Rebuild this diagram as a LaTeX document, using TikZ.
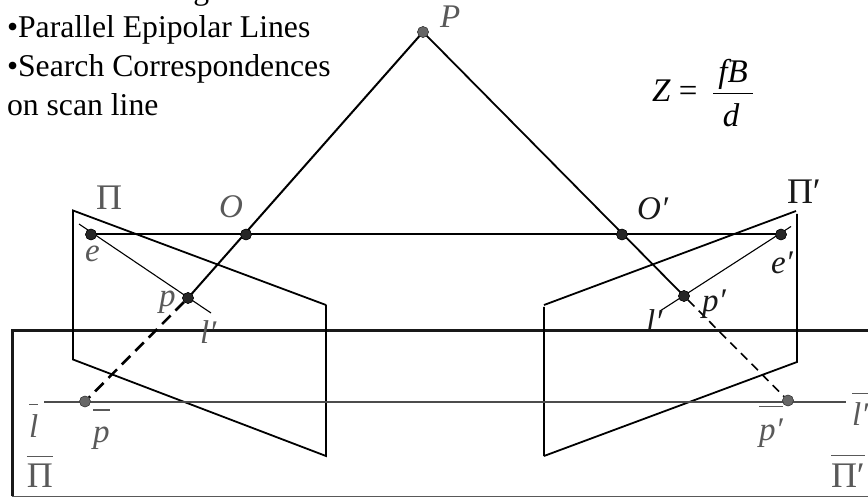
\documentclass[tikz,border=0pt]{standalone}
\usepackage{fontspec}
\setmainfont{Liberation Serif}
\newsavebox{\barbox}
\newcommand{\barover}[3]{\sbox{\barbox}{#3}\rlap{\raisebox{#1}{\rule{\wd\barbox}{#2}}}\usebox{\barbox}}
\tikzset{
  x=1pt,y=-1pt,
  lab/.style={anchor=base west,inner sep=0pt,outer sep=0pt,font=\fontsize{33}{33}\selectfont},
  bigpi/.style={font=\fontsize{36}{36}\selectfont},
  txt/.style={lab,font=\fontsize{31.7}{32}\selectfont,text=black},
  glab/.style={lab,text=black!65},
  dlab/.style={lab,text=black!90},
  ptdark/.style={circle,inner sep=0pt,minimum size=11pt,fill=black!85,draw=black,line width=.4pt},
  ptgray/.style={circle,inner sep=0pt,minimum size=11pt,fill=black!60,draw=black!80,line width=.4pt},
  ray/.style={line width=2pt,black},
  ray2/.style={line width=1.8pt,black},
  thinl/.style={line width=1.1pt,black},
  plane/.style={line width=1.8pt,black},
  scan/.style={line width=1.1pt,black!70},
}
\begin{document}
\begin{tikzpicture}
\useasboundingbox (0,0) rectangle (868,497);
\clip (0,0) rectangle (868,497);
% image plane
\coordinate (rtl) at (12,330);
\coordinate (rtr) at (868,330);
\coordinate (rbl) at (12,496.3);
\coordinate (rbr) at (868,496.3);
\draw[line width=1.2pt,black!65] (rbl) -- (rbr);
\draw[line width=3pt,black!90] (rbl) -- (rtl) -- (rtr);
% left plane
\coordinate (la) at (73,210.5);
\coordinate (lb) at (326,305);
\coordinate (lc) at (326,456);
\coordinate (ld) at (73,359.5);
\draw[plane] (lb) -- (la) -- (ld) -- (lc) -- (lb);
% right plane
\coordinate (ra) at (796,211);
\coordinate (rb) at (544,305);
\coordinate (rc) at (544,307);
\coordinate (rd) at (544,456);
\coordinate (re) at (797,362);
\coordinate (rf) at (797,214);
\draw[plane] (rb) -- (ra) (rc) -- (rd) (rd) -- (re) -- (rf);
% points
\node[ptgray] (P) at (423,32) {};
\node[ptdark] (O) at (246,234.5) {};
\node[ptdark] (Op) at (622,234.5) {};
\node[ptdark] (e) at (91,234.5) {};
\node[ptdark] (ep) at (781,234.5) {};
\node[ptdark] (p) at (188,298) {};
\node[ptdark] (pp) at (684,296) {};
\node[ptgray] (pb) at (85,401.5) {};
\node[ptgray] (ppb) at (788,400.5) {};
% epipolar lines
\coordinate (l1) at (79,224);
\coordinate (l2) at (211,313);
\coordinate (r1) at (791,226.5);
\coordinate (r2) at (660,311);
\draw[thinl] (l1) -- (l2);
\draw[thinl] (r1) -- (r2);
% scan line
\coordinate (s1) at (44,402);
\coordinate (s2) at (846,402);
\draw[scan] (s1) -- (s2);
% rays
\draw[ray] (P.center) -- (p.center);
\draw[ray2] (P.center) -- (pp.center);
\draw[ray] (e.center) -- (ep.center);
\draw[line width=2.6pt,black,dash pattern=on 12pt off 7pt] (p) -- (pb);
\draw[line width=1.6pt,black,dash pattern=on 9pt off 6pt] (pp) -- (ppb);
% redraw points on top
\node[ptgray] at (P) {};
\node[ptdark] at (O) {};
\node[ptdark] at (Op) {};
\node[ptdark] at (e) {};
\node[ptdark] at (ep) {};
\node[ptdark] at (p) {};
\node[ptdark] at (pp) {};
\node[ptgray] at (pb) {};
\node[ptgray] at (ppb) {};
% text
\node[txt] (t1) at (7,-0.5) {•Common Image Plane};
\node[txt] (t2) at (7,38) {•Parallel Epipolar Lines};
\node[txt] (t3) at (7,77) {•Search Correspondences};
\node[txt] (t4) at (7,116) {on scan line};
\node[lab,text=black] (Z) at (652,102) {\itshape Z\/\upshape{} =};
\node[lab,text=black,anchor=base] (F1) at (733,83) {\itshape fB};
\node[lab,text=black,anchor=base] (F2) at (731,127) {\itshape d};
\node[inner sep=0pt,outer sep=0pt] (Fbar) at (733,93.5) {\color{black}\rule{40pt}{1.2pt}};
% labels
\node[glab] (lP) at (440,28) {\itshape P};
\node[glab,bigpi] (lPi) at (96,210) {Π};
\node[glab] (lO) at (219,218) {\itshape O};
\node[dlab] (lOp) at (637,220) {\itshape O′};
\node[dlab,bigpi] (lPip) at (787,204) {Π′};
\node[glab] (le) at (85,262) {\itshape e};
\node[dlab] (lep) at (771,273) {\itshape e′};
\node[glab] (lp) at (159,307) {\itshape p};
\node[glab] (ll) at (200,343) {\itshape l′};
\node[dlab] (llp) at (646,332) {\itshape l′};
\node[dlab] (lpp) at (702,312) {\itshape p′};
\node[glab] (lpb) at (93,442.5) {\barover{32pt}{1.1pt}{\itshape p}};
\node[glab] (llb) at (29,437) {\barover{32pt}{1.1pt}{\itshape l}};
\node[glab,bigpi] (lPib) at (27,487) {\barover{30pt}{1.4pt}{Π}};
\node[glab] (lppb) at (759,440) {\barover{33pt}{1.1pt}{\itshape p′}};
\node[glab] (llpb) at (852,425) {\barover{31pt}{1.1pt}{\itshape l′}};
\node[glab,bigpi] (lPipb) at (831,487) {\barover{31pt}{1.4pt}{Π′}};
\end{tikzpicture}
\end{document}
